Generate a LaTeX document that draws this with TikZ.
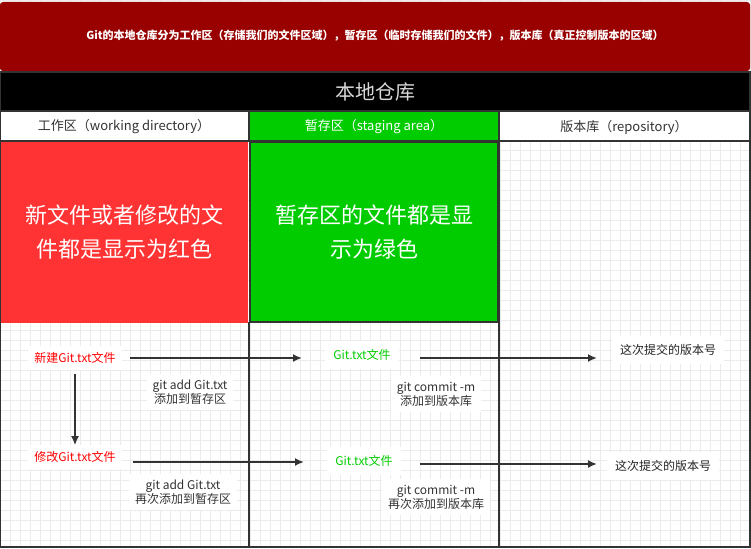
\documentclass[tikz,border=0pt]{standalone}
\usepackage{fontspec}
\setmainfont{Noto Sans CJK SC}
\begin{document}
\begin{tikzpicture}[x=1pt,y=-1pt,
  lbl/.style={font=\fontsize{12}{14}\selectfont, text=black!80, fill=white, align=center, inner sep=6pt},
  red/.style={font=\fontsize{12}{14}\selectfont, text=red, fill=white, inner sep=6pt},
  grn/.style={font=\fontsize{12}{14}\selectfont, text=green!80!black, fill=white, inner sep=8pt},
  ver/.style={font=\fontsize{12}{14}\selectfont, text=black!85, fill=white, inner sep=8pt},
  arr/.style={draw=black!80, line width=1.8pt, -{Latex[length=9pt,width=8pt]}},
  hdr/.style={font=\fontsize{13}{15}\selectfont, anchor=center}]
\usetikzlibrary{arrows.meta}
\useasboundingbox (0,0) rectangle (751,548);
\fill[white] (0,0) rectangle (751,548);
\draw[black!8, line width=0.5pt] (0,0) grid[step=10pt] (751,548);
% banner
\fill[red!60!black, rounded corners=3pt] (0,2) rectangle (750,71);
\node[text=white, font=\bfseries\fontsize{11}{13}\selectfont] (ban) at (375,36) {Git的本地仓库分为工作区（存储我们的文件区域），暂存区（临时存储我们的文件），版本库（真正控制版本的区域）};
\fill[black] (0,72) rectangle (750,111);
\draw[black!80, line width=1.5pt] (0,72) rectangle (750,111);
\node[text=black!15, font=\fontsize{20}{22}\selectfont] (loc) at (375,92) {本地仓库};
% headers
\draw[black!80, line width=1.5pt, fill=white] (0,111) rectangle (249,141);
\draw[black!80, line width=1.5pt, fill=green!80!black] (249,111) rectangle (499,141);
\draw[black!80, line width=1.5pt, fill=white] (499,111) rectangle (750,141);
\node[hdr, text=black!80] (h1) at (124,127) {工作区（working directory）};
\node[hdr, text=white] (h2) at (374,127) {暂存区（staging area）};
\node[hdr, text=black!80] (h3) at (624,127) {版本库（repository）};
% boxes
\fill[red!80!white] (0,142) rectangle (248,322);
\draw[black!80, line width=1.5pt, fill=green!80!black] (250,142) rectangle (498,322);
\draw[red!80!white, line width=1.5pt] (0,322) -- (248,322);
\node[text=white, font=\fontsize{22}{34}\selectfont, align=center] (t1) at (124,232) {新文件或者修改的文\\件都是显示为红色};
\node[text=white, font=\fontsize{22}{34}\selectfont, align=center] (t2) at (374,232) {暂存区的文件都是显\\示为绿色};
% columns
\draw[black!80, line width=1.5pt] (249,322) -- (249,547);
\draw[black!80, line width=1.5pt] (499,141) -- (499,547);
\draw[black!80, line width=1.5pt] (0,111) -- (0,547) -- (750,547) -- (750,111);
% flow nodes
\node[red] (n1) at (75,358) {新建Git.txt文件};
\node[red] (n2) at (75,457) {修改Git.txt文件};
\node[grn] (g1) at (362,355) {Git.txt文件};
\node[grn] (g2) at (364,461) {Git.txt文件};
\node[ver] (v1) at (668,350) {这次提交的版本号};
\node[ver] (v2) at (663,466) {这次提交的版本号};
\node[lbl] (l1) at (190,392) {git add Git.txt\\添加到暂存区};
\node[lbl] (l2) at (183,492) {git add Git.txt\\再次添加到暂存区};
\node[lbl] (l3) at (436,394) {git commit -m\\添加到版本库};
\node[lbl] (l4) at (436,497) {git commit -m\\再次添加到版本库};
\coordinate (a1) at (130,358); \coordinate (b1) at (302,358);
\coordinate (a2) at (133,462); \coordinate (b2) at (304,462);
\coordinate (c1) at (420,358); \coordinate (d1) at (597,358);
\coordinate (c2) at (420,464); \coordinate (d2) at (597,464);
\draw[arr] (a1) -- (b1);
\draw[arr] (a2) -- (b2);
\draw[arr] (c1) -- (d1);
\draw[arr] (c2) -- (d2);
\draw[arr] (n1.south) ++(0,4) coordinate (s1) -- (n2.north);
\end{tikzpicture}
\end{document}
